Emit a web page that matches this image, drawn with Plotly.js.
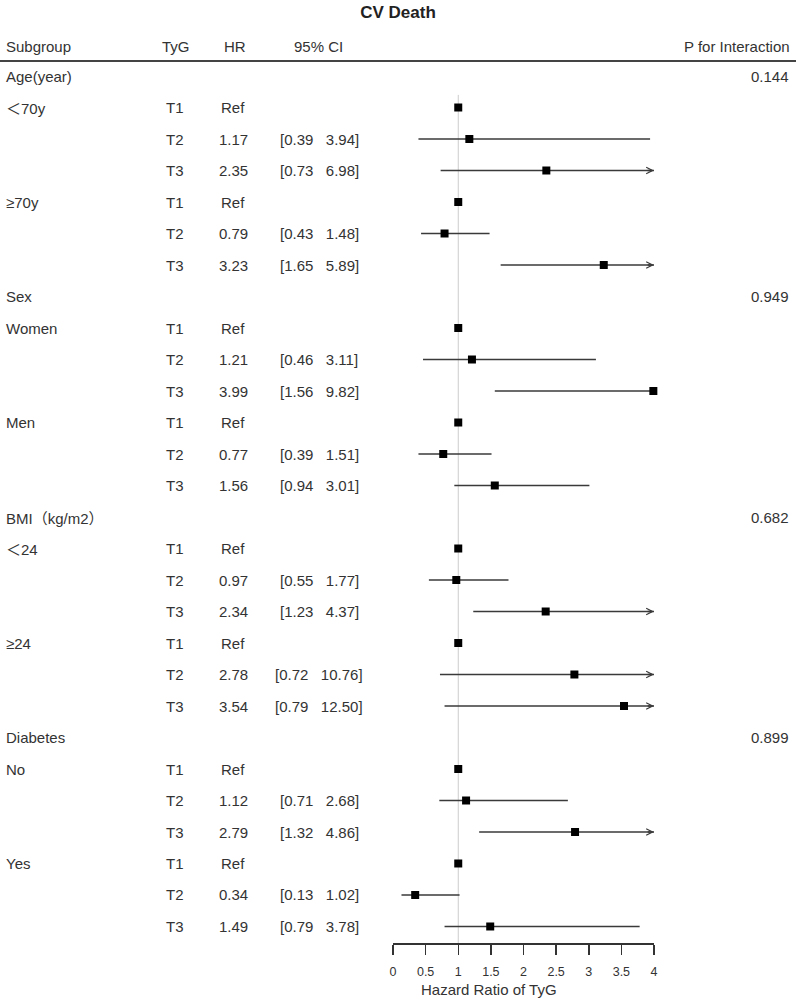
<!DOCTYPE html>
<html>
<head>
<meta charset="utf-8">
<script src="https://cdn.plot.ly/plotly-3.0.1.min.js"></script>
<style>html,body{margin:0;padding:0;background:#fff;}#chart{width:796px;height:1005px;}</style>
</head>
<body>
<div id="chart"></div>
<script>
const subgroup = ['Age(year)','＜70y','','','≥70y','','','Sex','Women','','','Men','','','BMI（kg/m2）','＜24','','','≥24','','','Diabetes','No','','','Yes','',''];
const tyg = ['','T1','T2','T3','T1','T2','T3','','T1','T2','T3','T1','T2','T3','','T1','T2','T3','T1','T2','T3','','T1','T2','T3','T1','T2','T3'];
const hrLabel = ['','Ref','1.17','2.35','Ref','0.79','3.23','','Ref','1.21','3.99','Ref','0.77','1.56','','Ref','0.97','2.34','Ref','2.78','3.54','','Ref','1.12','2.79','Ref','0.34','1.49'];
const hr = [null,1,1.17,2.35,1,0.79,3.23,null,1,1.21,3.99,1,0.77,1.56,null,1,0.97,2.34,1,2.78,3.54,null,1,1.12,2.79,1,0.34,1.49];
const ciLow = [null,null,0.39,0.73,null,0.43,1.65,null,null,0.46,1.56,null,0.39,0.94,null,null,0.55,1.23,null,0.72,0.79,null,null,0.71,1.32,null,0.13,0.79];
const ciHigh = [null,null,3.94,6.98,null,1.48,5.89,null,null,3.11,9.82,null,1.51,3.01,null,null,1.77,4.37,null,10.76,12.50,null,null,2.68,4.86,null,1.02,3.78];
const pInteraction = ['0.144','','','','','','','0.949','','','','','','','0.682','','','','','','','0.899','','','','','',''];
const xTicks = [0,0.5,1,1.5,2,2.5,3,3.5,4];
const xTickText = ['0','0.5','1','1.5','2','2.5','3','3.5','4'];
const columnHeaders = ['Subgroup','TyG','HR','95% CI','P for Interaction'];

const W = 796, H = 1005;
const XMAX = 4;
const FONT = 'Liberation Sans, Arial, sans-serif';
const CJK = 'Noto Sans CJK SC';
const TXT = '#333333';
const px = v => v / W;
const rows = subgroup.map((_, i) => i);
// full-width symbols drawn with a CJK font
const fw = s => s.replace(/([＜（）])/g, '<span style="font-family:\'' + CJK + '\'">$1</span>');

// CI lines (truncated at axis max)
const lx = [], ly = [];
rows.forEach(i => {
  if (ciLow[i] !== null) {
    lx.push(ciLow[i], Math.min(ciHigh[i], XMAX), null);
    ly.push(i, i, null);
  }
});

const traces = [
  {x: lx, y: ly, mode: 'lines', type: 'scatter', line: {color: '#3a3a3a', width: 1.7},
   hoverinfo: 'skip', showlegend: false, cliponaxis: false},
  {x: hr, y: rows, mode: 'markers', type: 'scatter',
   marker: {symbol: 'square', size: 8, color: '#000'},
   showlegend: false, cliponaxis: false}
];

const ann = [];
const textFont = {family: FONT, size: 15, color: TXT};
rows.forEach(i => {
  if (subgroup[i]) ann.push({xref: 'paper', yref: 'y', x: px(4), y: i, text: fw(subgroup[i]), showarrow: false, xanchor: 'left', yanchor: 'middle', font: textFont});
  if (tyg[i]) ann.push({xref: 'paper', yref: 'y', x: px(175), y: i, text: tyg[i], showarrow: false, xanchor: 'center', yanchor: 'middle', font: textFont});
  if (hrLabel[i]) ann.push({xref: 'paper', yref: 'y', x: px(233), y: i, text: hrLabel[i], showarrow: false, xanchor: 'center', yanchor: 'middle', font: textFont});
  if (ciLow[i] !== null) ann.push({xref: 'paper', yref: 'y', x: px(319), y: i, text: '[' + ciLow[i].toFixed(2) + '&nbsp;&nbsp;&nbsp;' + ciHigh[i].toFixed(2) + ']', showarrow: false, xanchor: 'center', yanchor: 'middle', font: textFont});
  if (pInteraction[i]) ann.push({xref: 'paper', yref: 'y', x: px(791), y: i, text: pInteraction[i], showarrow: false, xanchor: 'right', yanchor: 'middle', font: textFont});
  // arrow for intervals beyond the axis (hidden when the marker sits at the edge)
  if (ciHigh[i] !== null && ciHigh[i] > XMAX && hr[i] < XMAX - 0.1) {
    ann.push({xref: 'x', yref: 'y', axref: 'x', ayref: 'y', x: XMAX, y: i, ax: XMAX - 0.12, ay: i,
      text: '', showarrow: true, arrowhead: 5, arrowsize: 0.9, arrowwidth: 1.4, arrowcolor: '#3a3a3a', standoff: 0, startstandoff: 0});
  }
});
// Column headers
const hdrY = -0.95;
const hdrX = [px(4), px(176), px(235), px(318), px(792)];
const hdrAnchor = ['left','center','center','center','right'];
columnHeaders.forEach((h, k) => ann.push({xref: 'paper', yref: 'y', x: hdrX[k], y: hdrY, text: h, showarrow: false, xanchor: hdrAnchor[k], yanchor: 'middle', font: textFont}));
// axis title
ann.push({xref: 'paper', yref: 'paper', x: px(489), y: -(989 - 943) / 903, text: 'Hazard Ratio of TyG', showarrow: false, xanchor: 'center', yanchor: 'middle', font: {family: FONT, size: 15, color: TXT}});

const layout = {
  width: W, height: H,
  paper_bgcolor: '#fff', plot_bgcolor: '#fff',
  margin: {l: 0, r: 0, t: 40, b: 62},
  title: {text: '<b>CV Death</b>', x: 0.5, xanchor: 'center', xref: 'paper', y: 1 - 12 / H, yanchor: 'middle', yref: 'container',
    font: {family: FONT, size: 17, color: '#222'}},
  xaxis: {domain: [393 / W, 654 / W], range: [0, XMAX], tickvals: xTicks, ticktext: xTickText,
    showgrid: false, zeroline: false, showline: true, linecolor: '#333', linewidth: 1.5,
    ticks: 'outside', ticklen: 10, tickwidth: 1.5, tickcolor: '#333', ticklabelstandoff: 6,
    tickfont: {family: FONT, size: 12.5, color: TXT},
    fixedrange: true},
  yaxis: {range: [27.524, -1.143], visible: false, showgrid: false, zeroline: false, fixedrange: true},
  shapes: [
    {type: 'line', xref: 'x', yref: 'y', x0: 1, x1: 1, y0: 0.6, y1: 27.524, line: {color: '#cccccc', width: 1}, layer: 'below'},
    {type: 'line', xref: 'paper', yref: 'y', x0: 0, x1: 1, y0: -0.476, y1: -0.476, line: {color: '#444', width: 2}}
  ],
  annotations: ann,
  showlegend: false
};

Plotly.newPlot('chart', traces, layout, {staticPlot: true, displayModeBar: false});
</script>
</body>
</html>
